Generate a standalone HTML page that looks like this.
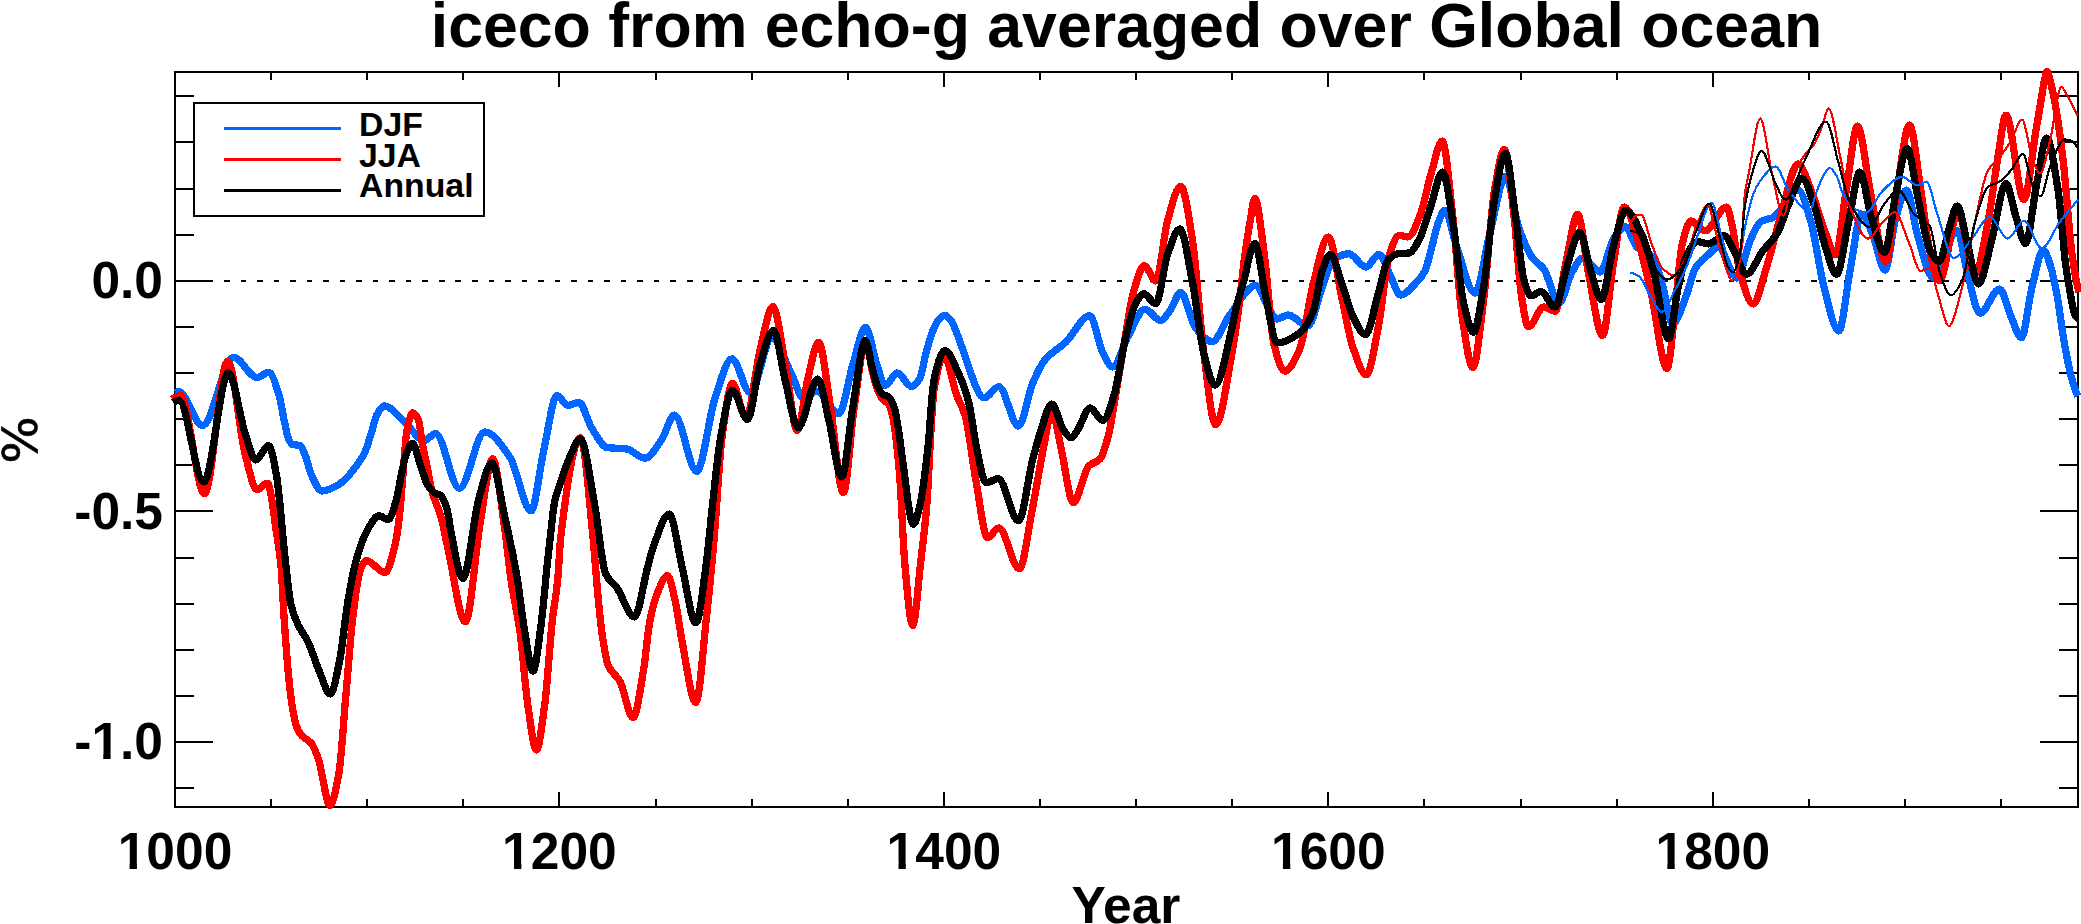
<!DOCTYPE html>
<html><head><meta charset="utf-8"><title>iceco from echo-g averaged over Global ocean</title>
<style>
html,body{margin:0;padding:0;background:#fff;}
body{width:2081px;height:924px;overflow:hidden;}
svg{display:block;}
text{font-family:"Liberation Sans",sans-serif;font-weight:bold;fill:#000;}
</style></head><body>
<svg width="2081" height="924" viewBox="0 0 2081 924">
<rect x="0" y="0" width="2081" height="924" fill="#fff"/>
<text x="1126.5" y="47" font-size="62.6" text-anchor="middle">iceco from echo-g averaged over Global ocean</text>
<line x1="174.4" y1="281" x2="2078.0" y2="281" stroke="#000" stroke-width="2" stroke-dasharray="5.6 10.934" shape-rendering="crispEdges"/>
<rect x="175.0" y="72.0" width="1903.0" height="735.0" fill="none" stroke="#000" stroke-width="2" shape-rendering="crispEdges"/>
<path d="M271.0,72.0v8M271.0,807.0v-8M367.0,72.0v8M367.0,807.0v-8M463.0,72.0v8M463.0,807.0v-8M559.0,72.0v15M559.0,807.0v-15M656.0,72.0v8M656.0,807.0v-8M752.0,72.0v8M752.0,807.0v-8M848.0,72.0v8M848.0,807.0v-8M944.0,72.0v15M944.0,807.0v-15M1040.0,72.0v8M1040.0,807.0v-8M1136.0,72.0v8M1136.0,807.0v-8M1232.0,72.0v8M1232.0,807.0v-8M1328.0,72.0v15M1328.0,807.0v-15M1424.0,72.0v8M1424.0,807.0v-8M1521.0,72.0v8M1521.0,807.0v-8M1617.0,72.0v8M1617.0,807.0v-8M1713.0,72.0v15M1713.0,807.0v-15M1809.0,72.0v8M1809.0,807.0v-8M1905.0,72.0v8M1905.0,807.0v-8M2001.0,72.0v8M2001.0,807.0v-8M175.0,788.0h19M2078.0,788.0h-19M175.0,742.0h38M2078.0,742.0h-38M175.0,696.0h19M2078.0,696.0h-19M175.0,650.0h19M2078.0,650.0h-19M175.0,604.0h19M2078.0,604.0h-19M175.0,558.0h19M2078.0,558.0h-19M175.0,511.0h38M2078.0,511.0h-38M175.0,465.0h19M2078.0,465.0h-19M175.0,419.0h19M2078.0,419.0h-19M175.0,373.0h19M2078.0,373.0h-19M175.0,327.0h19M2078.0,327.0h-19M175.0,281.0h38M2078.0,281.0h-38M175.0,235.0h19M2078.0,235.0h-19M175.0,189.0h19M2078.0,189.0h-19M175.0,142.0h19M2078.0,142.0h-19M175.0,96.0h19M2078.0,96.0h-19" stroke="#000" stroke-width="2" fill="none" shape-rendering="crispEdges"/>
<g fill="none" shape-rendering="crispEdges" stroke-linejoin="round" stroke-linecap="butt">
<path d="M175.0,392.5C176.3,392.0 177.7,391.8 179.0,391.8C186.8,391.8 194.7,425.6 202.5,425.6C212.9,425.6 223.2,357.3 233.6,357.3C241.4,357.3 249.2,377.5 257.0,377.5C260.9,377.5 264.8,372.3 268.7,372.3C272.1,372.3 275.6,384.1 279.0,395.0C280.8,400.6 282.5,412.9 284.3,421.0C285.6,426.9 286.9,434.6 288.2,437.8C289.5,440.9 290.7,443.9 292.0,444.3C294.6,445.2 297.3,444.8 299.9,445.6C301.6,446.1 303.3,450.9 305.0,454.7C307.2,459.7 309.4,470.9 311.6,475.5C315.1,482.7 318.5,491.0 322.0,491.0C325.0,491.0 328.0,489.6 331.0,488.5C335.3,486.9 339.6,484.3 343.9,480.8C346.6,478.6 349.3,474.8 352.0,471.5C353.9,469.2 355.8,466.7 357.7,464.0C360.0,460.7 362.3,457.8 364.6,453.0C366.9,448.1 369.3,439.3 371.6,432.0C373.3,426.6 375.1,418.1 376.8,415.0C379.4,410.4 381.9,406.0 384.5,406.0C390.9,406.0 397.4,415.5 403.8,421.0C410.7,426.9 417.6,440.4 424.5,440.4C428.2,440.4 431.8,433.5 435.5,433.5C443.5,433.5 451.4,488.3 459.4,488.3C467.8,488.3 476.3,432.0 484.7,432.0C493.1,432.0 501.6,445.1 510.0,457.4C517.0,467.6 524.0,510.8 531.0,510.8C535.3,510.8 539.5,469.2 543.8,450.3C548.2,430.8 552.6,395.5 557.0,395.5C560.6,395.5 564.1,405.3 567.7,405.3C571.5,405.3 575.2,402.5 579.0,402.5C583.2,402.5 587.4,421.2 591.6,427.8C596.7,435.9 601.9,446.7 607.0,447.5C613.6,448.5 620.2,448.1 626.8,449.0C632.9,449.8 638.9,458.2 645.0,458.2C650.7,458.2 656.3,447.2 662.0,439.0C666.1,433.0 670.3,415.1 674.4,415.1C681.8,415.1 689.3,471.3 696.7,471.3C702.8,471.3 708.9,416.1 715.0,398.2C720.6,381.7 726.3,358.8 731.9,358.8C738.0,358.8 744.1,392.5 750.2,392.5C757.5,392.5 764.7,338.0 772.0,338.0C778.3,338.0 784.7,360.8 791.0,372.9C795.5,381.5 800.0,399.6 804.5,399.6C808.4,399.6 812.4,391.0 816.3,391.0C823.8,391.0 831.3,413.7 838.8,413.7C843.5,413.7 848.2,379.3 852.9,364.4C857.1,350.9 861.4,327.3 865.6,327.3C869.3,327.3 873.1,353.8 876.8,364.4C879.6,372.3 882.4,385.5 885.2,385.5C889.2,385.5 893.3,372.9 897.3,372.9C902.0,372.9 906.7,386.4 911.4,386.4C914.3,386.4 917.1,382.7 920.0,378.0C922.0,374.7 924.0,360.5 926.0,353.0C927.8,346.3 929.6,339.4 931.4,334.6C933.6,328.8 935.8,323.1 938.0,320.5C940.2,317.9 942.4,315.2 944.6,315.2C946.7,315.2 948.9,317.9 951.0,320.5C953.1,323.1 955.3,329.3 957.4,334.6C959.0,338.6 960.6,343.9 962.2,348.0C969.5,366.8 976.9,397.9 984.2,397.9C989.1,397.9 993.9,386.7 998.8,386.7C1005.4,386.7 1011.9,426.0 1018.5,426.0C1023.2,426.0 1027.8,394.9 1032.5,383.8C1036.3,374.8 1040.0,366.1 1043.8,361.3C1051.3,351.8 1058.8,348.9 1066.3,341.6C1074.1,334.0 1081.9,315.7 1089.7,315.7C1094.1,315.7 1098.5,344.6 1102.9,352.9C1106.2,359.0 1109.4,367.0 1112.7,367.0C1117.9,367.0 1123.0,345.2 1128.2,336.0C1133.8,326.1 1139.4,309.3 1145.0,309.3C1150.2,309.3 1155.4,320.5 1160.6,320.5C1163.7,320.5 1166.9,314.7 1170.0,310.7C1173.6,306.1 1177.1,292.4 1180.7,292.4C1185.6,292.4 1190.4,321.5 1195.3,327.6C1200.9,334.6 1206.6,341.6 1212.2,341.6C1217.8,341.6 1223.4,323.7 1229.0,316.3C1237.9,304.5 1246.9,285.4 1255.8,285.4C1260.0,285.4 1264.3,301.6 1268.5,307.9C1271.3,312.1 1274.2,319.0 1277.0,319.0C1280.7,319.0 1284.5,315.0 1288.2,315.0C1294.8,315.0 1301.3,326.0 1307.9,326.0C1312.6,326.0 1317.3,300.2 1322.0,288.0C1325.7,278.3 1329.5,262.7 1333.2,260.0C1338.4,256.3 1343.5,253.8 1348.7,253.8C1354.5,253.8 1360.2,267.0 1366.0,267.0C1370.3,267.0 1374.5,254.4 1378.8,254.4C1382.8,254.4 1386.9,269.4 1390.9,277.0C1394.1,283.0 1397.2,295.0 1400.4,295.0C1406.2,295.0 1411.9,287.1 1417.7,281.0C1420.0,278.5 1422.4,276.0 1424.7,271.5C1427.0,267.0 1429.3,256.2 1431.6,248.0C1433.9,239.8 1436.2,227.7 1438.5,222.0C1440.6,216.8 1442.6,210.3 1444.7,210.3C1448.7,210.3 1452.6,235.5 1456.6,246.6C1462.7,263.6 1468.8,293.0 1474.9,293.0C1479.9,293.0 1485.0,251.5 1490.0,232.5C1495.3,212.6 1500.5,176.3 1505.8,176.3C1510.0,176.3 1514.3,214.9 1518.5,227.0C1523.2,240.3 1527.8,251.6 1532.5,257.9C1536.3,263.0 1540.0,264.0 1543.8,269.0C1548.9,275.8 1553.9,303.0 1559.0,303.0C1563.3,303.0 1567.7,279.2 1572.0,272.0C1575.7,265.9 1579.3,257.9 1583.0,257.9C1588.7,257.9 1594.3,272.0 1600.0,272.0C1604.7,272.0 1609.3,244.6 1614.0,238.0C1617.7,232.8 1621.5,226.7 1625.2,226.7C1629.1,226.7 1632.9,243.2 1636.8,247.0C1642.4,252.4 1647.9,251.5 1653.5,257.9C1656.8,261.7 1660.1,277.4 1663.4,288.8C1666.4,299.3 1669.5,324.0 1672.5,324.0C1677.2,324.0 1681.9,306.6 1686.6,294.7C1689.4,287.6 1692.2,273.3 1695.0,268.7C1699.4,261.5 1703.8,258.6 1708.2,254.7C1711.5,251.8 1714.7,247.0 1718.0,247.0C1724.3,247.0 1730.7,278.0 1737.0,278.0C1741.3,278.0 1745.7,250.4 1750.0,241.0C1753.7,233.0 1757.3,223.6 1761.0,221.5C1765.0,219.2 1769.0,219.4 1773.0,217.5C1781.3,213.5 1789.7,190.0 1798.0,190.0C1802.3,190.0 1806.7,207.9 1811.0,222.3C1815.3,236.7 1819.7,271.1 1824.0,287.3C1828.9,305.7 1833.9,331.0 1838.8,331.0C1842.5,331.0 1846.3,290.2 1850.0,271.0C1853.8,251.3 1857.7,214.0 1861.5,214.0C1865.3,214.0 1869.1,226.7 1872.9,235.3C1876.9,244.4 1881.0,270.0 1885.0,270.0C1888.5,270.0 1892.1,231.1 1895.6,219.0C1899.3,206.5 1902.9,190.0 1906.6,190.0C1910.2,190.0 1913.9,222.9 1917.5,235.0C1922.7,252.2 1927.8,277.5 1933.0,277.5C1941.1,277.5 1949.2,230.5 1957.3,230.5C1960.5,230.5 1963.8,259.1 1967.0,271.0C1971.3,286.9 1975.7,313.2 1980.0,313.2C1986.5,313.2 1993.0,289.0 1999.5,289.0C2003.3,289.0 2007.2,308.1 2011.0,316.5C2014.4,324.1 2017.9,337.6 2021.3,337.6C2024.9,337.6 2028.4,301.2 2032.0,287.3C2035.8,272.7 2039.5,250.0 2043.3,250.0C2045.7,250.0 2048.1,258.8 2050.5,266.0C2052.9,273.1 2055.2,285.5 2057.6,298.5C2059.5,309.1 2061.5,326.4 2063.4,337.6C2066.0,352.6 2068.6,367.0 2071.2,376.6C2073.4,384.7 2075.6,391.6 2077.8,396.0" stroke="#0066ff" stroke-width="7.3"/>
<path d="M172.0,399.3C173.0,398.7 174.0,398.0 175.0,397.5C176.8,396.5 178.6,395.0 180.4,395.0C188.4,395.0 196.5,493.6 204.5,493.6C212.2,493.6 220.0,361.2 227.7,361.2C233.6,361.2 239.4,432.7 245.3,454.7C249.2,469.4 253.1,489.7 257.0,489.7C260.5,489.7 263.9,483.2 267.4,483.2C270.4,483.2 273.5,513.2 276.5,532.6C278.0,542.2 279.5,550.2 281.0,566.0C282.0,576.6 283.0,601.5 284.0,616.3C285.5,638.9 287.1,660.8 288.6,676.0C290.0,690.2 291.5,702.9 292.9,710.6C294.3,718.3 295.8,724.6 297.2,728.0C298.7,731.5 300.1,733.8 301.6,735.5C305.1,739.5 308.5,739.6 312.0,744.0C314.3,746.9 316.6,754.1 318.9,761.0C322.6,772.0 326.2,805.5 329.9,805.5C332.9,805.5 335.8,790.1 338.8,773.8C341.2,760.8 343.5,721.5 345.9,695.0C348.2,668.9 350.6,635.0 352.9,616.0C355.3,596.8 357.6,577.2 360.0,571.0C362.1,565.5 364.2,560.5 366.3,560.5C372.5,560.5 378.8,572.7 385.0,572.7C388.3,572.7 391.7,558.6 395.0,545.0C396.4,539.1 397.9,529.4 399.3,517.4C400.5,507.1 401.8,488.1 403.0,474.0C404.3,459.2 405.6,437.3 406.9,430.8C408.8,421.1 410.8,412.8 412.7,412.8C414.6,412.8 416.6,415.8 418.5,420.0C419.7,422.6 420.8,435.2 422.0,441.6C423.8,451.7 425.7,459.6 427.5,468.7C428.9,475.8 430.4,484.8 431.8,490.3C433.2,495.7 434.6,499.3 436.0,503.3C437.5,507.5 439.0,510.2 440.5,515.0C443.0,523.1 445.5,537.9 448.0,548.8C453.8,574.0 459.5,621.8 465.3,621.8C470.4,621.8 475.4,549.9 480.5,520.7C484.5,497.5 488.6,458.8 492.6,458.8C496.5,458.8 500.5,499.4 504.4,526.3C506.6,541.3 508.8,565.0 511.0,580.0C514.0,600.4 517.0,610.5 520.0,632.0C522.6,650.7 525.2,687.1 527.8,704.7C530.7,724.1 533.5,750.0 536.4,750.0C539.2,750.0 541.9,724.9 544.7,704.7C547.3,685.7 549.9,641.9 552.5,619.0C554.2,603.7 556.0,597.5 557.7,580.0C558.7,569.9 559.7,546.0 560.7,537.6C567.3,482.2 573.8,437.7 580.4,437.7C584.6,437.7 588.8,496.3 593.0,537.6C594.2,549.4 595.4,567.0 596.6,580.0C598.3,598.8 600.1,620.0 601.8,632.0C604.0,647.0 606.1,660.8 608.3,665.7C612.2,674.5 616.1,674.3 620.0,681.3C624.3,689.1 628.7,717.7 633.0,717.7C636.5,717.7 639.9,691.2 643.4,671.0C645.5,658.8 647.6,632.9 649.7,622.0C652.1,609.4 654.6,599.9 657.0,594.0C660.5,585.4 664.1,575.7 667.6,575.7C670.1,575.7 672.5,589.6 675.0,600.0C677.4,610.1 679.8,629.7 682.2,642.0C686.7,665.2 691.3,702.4 695.8,702.4C699.4,702.4 703.0,648.6 706.6,616.0C709.1,593.6 711.5,568.1 714.0,540.0C716.7,509.7 719.3,457.6 722.0,437.6C725.5,411.4 729.0,383.5 732.5,383.5C737.0,383.5 741.5,417.9 746.0,417.9C750.7,417.9 755.3,369.0 760.0,350.3C764.2,333.4 768.5,306.7 772.7,306.7C776.9,306.7 781.2,343.1 785.4,364.4C789.3,384.2 793.3,430.5 797.2,430.5C800.8,430.5 804.3,392.7 807.9,378.5C811.5,364.3 815.0,342.5 818.6,342.5C822.5,342.5 826.5,383.1 830.4,406.6C834.7,432.3 839.0,492.7 843.3,492.7C847.0,492.7 850.6,430.8 854.3,406.6C858.1,381.7 861.8,342.0 865.6,342.0C867.9,342.0 870.2,363.2 872.5,372.0C874.2,378.6 876.0,385.9 877.7,390.0C879.4,394.1 881.2,397.6 882.9,399.5C884.8,401.6 886.6,401.6 888.5,404.0C890.0,406.0 891.5,411.4 893.0,418.0C894.3,423.9 895.7,435.2 897.0,447.0C898.0,455.8 899.0,466.7 900.0,480.0C901.5,500.4 903.1,543.6 904.6,561.0C907.3,591.7 910.0,625.5 912.7,625.5C915.4,625.5 918.1,584.4 920.8,561.0C922.9,543.1 924.9,528.7 927.0,502.5C928.3,485.6 929.7,450.3 931.0,430.0C932.0,414.7 933.0,396.1 934.0,390.0C937.3,369.7 940.7,355.7 944.0,355.7C948.2,355.7 952.4,383.7 956.6,395.0C959.4,402.6 962.2,405.9 965.0,415.3C968.8,428.0 972.5,462.6 976.3,482.9C980.0,503.0 983.8,537.7 987.5,537.7C991.3,537.7 995.0,527.9 998.8,527.9C1005.6,527.9 1012.5,568.7 1019.3,568.7C1023.7,568.7 1028.1,530.2 1032.5,508.2C1036.3,489.4 1040.0,464.7 1043.8,446.3C1046.4,433.4 1049.1,411.0 1051.7,411.0C1054.7,411.0 1057.7,433.8 1060.7,446.3C1064.9,463.8 1069.1,502.5 1073.3,502.5C1078.5,502.5 1083.6,470.9 1088.8,466.0C1092.5,462.4 1096.3,462.9 1100.0,459.0C1102.8,456.0 1105.7,445.8 1108.5,435.0C1110.8,426.1 1113.2,409.2 1115.5,395.6C1117.9,381.8 1120.2,366.6 1122.6,352.9C1126.3,331.3 1130.1,303.5 1133.8,291.0C1137.3,279.3 1140.8,265.7 1144.3,265.7C1148.1,265.7 1152.0,281.0 1155.8,281.0C1159.7,281.0 1163.7,234.3 1167.6,220.6C1172.0,205.4 1176.3,186.3 1180.7,186.3C1184.6,186.3 1188.6,215.6 1192.5,240.3C1196.3,264.0 1200.0,324.5 1203.8,353.0C1207.7,382.7 1211.7,424.6 1215.6,424.6C1221.1,424.6 1226.5,382.7 1232.0,353.0C1234.2,340.9 1236.5,325.3 1238.7,308.5C1240.7,293.4 1242.7,271.4 1244.7,256.6C1246.5,243.5 1248.2,231.9 1250.0,222.0C1251.6,213.1 1253.2,198.5 1254.8,198.5C1258.0,198.5 1261.1,231.6 1264.3,254.4C1267.5,277.7 1270.8,331.7 1274.0,344.5C1277.6,358.7 1281.2,371.2 1284.8,371.2C1289.7,371.2 1294.5,360.9 1299.4,350.0C1304.1,339.5 1308.8,300.2 1313.5,282.6C1318.5,264.0 1323.4,237.0 1328.4,237.0C1332.8,237.0 1337.2,276.8 1341.6,296.6C1345.4,313.6 1349.1,336.6 1352.9,347.3C1357.4,360.1 1361.9,374.8 1366.4,374.8C1370.3,374.8 1374.3,347.1 1378.2,327.6C1382.0,308.9 1385.7,265.5 1389.5,254.4C1392.8,244.7 1396.0,235.3 1399.3,235.3C1402.1,235.3 1405.0,237.0 1407.8,237.0C1411.9,237.0 1416.1,225.1 1420.2,215.0C1423.8,206.2 1427.4,186.0 1431.0,174.0C1434.7,161.6 1438.5,141.0 1442.2,141.0C1445.6,141.0 1449.0,184.0 1452.4,212.8C1455.7,240.5 1458.9,295.5 1462.2,317.0C1465.8,340.5 1469.3,367.6 1472.9,367.6C1476.4,367.6 1479.8,329.4 1483.3,302.9C1487.1,274.1 1490.8,211.8 1494.6,190.0C1497.9,171.1 1501.1,149.5 1504.4,149.5C1507.7,149.5 1511.0,190.1 1514.3,218.5C1516.6,238.6 1519.0,279.4 1521.3,294.5C1523.6,309.6 1526.0,326.8 1528.3,326.8C1533.5,326.8 1538.6,307.0 1543.8,307.0C1547.5,307.0 1551.3,311.3 1555.0,311.3C1558.8,311.3 1562.5,276.8 1566.3,260.7C1570.1,244.6 1573.8,214.3 1577.6,214.3C1581.3,214.3 1585.1,256.6 1588.8,274.8C1593.4,297.1 1597.9,335.5 1602.5,335.5C1606.2,335.5 1609.8,284.3 1613.5,263.0C1617.1,242.1 1620.7,207.0 1624.3,207.0C1629.3,207.0 1634.2,229.3 1639.2,245.0C1643.3,257.9 1647.4,277.1 1651.5,295.0C1656.7,317.6 1661.8,368.6 1667.0,368.6C1669.9,368.6 1672.9,325.5 1675.8,301.0C1677.9,283.8 1679.9,253.8 1682.0,245.0C1685.0,232.2 1688.0,221.0 1691.0,221.0C1695.7,221.0 1700.3,230.9 1705.0,230.9C1712.2,230.9 1719.4,207.0 1726.6,207.0C1728.4,207.0 1730.2,217.4 1732.0,225.0C1734.6,235.8 1737.1,261.7 1739.7,271.0C1744.2,287.2 1748.7,304.0 1753.2,304.0C1757.5,304.0 1761.7,282.2 1766.0,269.0C1771.0,253.5 1776.0,231.4 1781.0,215.0C1786.7,196.4 1792.3,163.9 1798.0,163.9C1802.3,163.9 1806.7,179.6 1811.0,190.0C1815.3,200.4 1819.7,217.7 1824.0,228.8C1827.8,238.6 1831.7,254.8 1835.5,254.8C1839.1,254.8 1842.7,211.0 1846.3,190.0C1850.1,168.0 1853.8,126.0 1857.6,126.0C1861.7,126.0 1865.9,169.9 1870.0,190.0C1875.3,215.6 1880.5,262.0 1885.8,262.0C1889.5,262.0 1893.3,211.5 1897.0,190.0C1901.2,166.0 1905.3,125.0 1909.5,125.0C1913.3,125.0 1917.0,166.5 1920.8,190.0C1923.8,208.7 1926.8,238.2 1929.8,251.0C1933.0,264.7 1936.2,280.8 1939.4,280.8C1945.6,280.8 1951.8,212.6 1958.0,212.6C1963.7,212.6 1969.3,274.0 1975.0,274.0C1979.3,274.0 1983.7,243.7 1988.0,222.0C1991.3,205.5 1994.6,176.4 1997.9,157.4C2000.6,141.8 2003.3,115.2 2006.0,115.2C2012.0,115.2 2017.9,199.6 2023.9,199.6C2027.9,199.6 2032.0,153.4 2036.0,130.0C2037.6,120.7 2039.2,111.5 2040.8,102.0C2042.0,95.1 2043.1,86.1 2044.3,81.0C2045.2,76.9 2046.2,71.3 2047.1,71.3C2048.1,71.3 2049.2,77.2 2050.2,81.0C2051.7,86.6 2053.3,93.7 2054.8,102.0C2057.5,116.4 2060.1,135.4 2062.8,157.4C2066.0,183.8 2069.2,235.0 2072.4,257.0C2074.6,272.1 2076.8,284.9 2079.0,292.0" stroke="#ff0000" stroke-width="7.3"/>
<path d="M173.3,402.4C173.9,402.0 174.4,401.6 175.0,401.4C176.3,401.0 177.7,400.6 179.0,400.6C187.3,400.6 195.5,482.0 203.8,482.0C212.0,482.0 220.2,372.9 228.4,372.9C234.0,372.9 239.7,417.5 245.3,433.9C248.8,444.0 252.2,459.9 255.7,459.9C260.0,459.9 264.4,445.6 268.7,445.6C271.3,445.6 273.9,461.4 276.5,475.5C279.5,491.8 282.5,536.3 285.5,562.0C287.3,577.7 289.2,597.3 291.0,605.0C293.3,614.8 295.7,619.7 298.0,624.7C301.3,631.8 304.6,634.8 307.9,641.6C311.6,649.2 315.3,661.9 319.0,670.5C322.8,679.2 326.5,694.0 330.3,694.0C333.5,694.0 336.8,674.5 340.0,658.5C342.4,646.4 344.9,619.7 347.3,605.0C350.1,588.1 352.9,572.2 355.7,562.0C359.6,547.9 363.5,536.6 367.4,530.0C371.3,523.4 375.1,515.7 379.0,515.7C382.1,515.7 385.1,519.6 388.2,519.6C390.8,519.6 393.4,509.5 396.0,501.0C397.8,495.0 399.7,482.3 401.5,474.0C402.9,467.5 404.4,459.6 405.8,455.7C408.0,449.8 410.1,443.3 412.3,443.3C414.8,443.3 417.4,456.2 419.9,463.3C422.1,469.4 424.2,478.6 426.4,482.8C427.9,485.7 429.5,487.8 431.0,489.5C432.2,490.8 433.3,492.1 434.5,492.8C436.6,494.1 438.7,494.0 440.8,495.5C442.2,496.5 443.6,499.6 445.0,503.0C446.0,505.4 447.0,509.1 448.0,513.5C449.1,518.2 450.1,527.7 451.2,533.0C455.1,552.2 458.9,578.4 462.8,578.4C468.2,578.4 473.6,516.8 479.0,498.0C483.3,483.1 487.5,463.0 491.8,463.0C496.0,463.0 500.2,496.1 504.4,515.0C508.6,533.9 512.8,552.1 517.0,577.0C519.3,590.8 521.7,613.1 524.0,626.8C527.0,644.4 530.0,671.0 533.0,671.0C535.6,671.0 538.2,645.5 540.8,626.8C543.0,610.7 545.3,582.7 547.5,562.0C548.5,553.0 549.4,544.2 550.4,536.0C551.8,523.8 553.3,508.1 554.7,501.5C556.1,494.9 557.6,491.9 559.0,487.5C562.5,476.9 565.9,465.5 569.4,458.0C573.0,450.1 576.7,439.0 580.3,439.0C585.0,439.0 589.8,478.6 594.5,503.8C598.2,523.6 602.0,566.3 605.7,574.0C609.5,581.8 613.2,582.7 617.0,588.0C622.8,596.1 628.5,617.0 634.3,617.0C638.9,617.0 643.4,582.2 648.0,565.7C649.7,559.7 651.3,552.6 653.0,548.0C658.4,533.1 663.8,514.0 669.2,514.0C673.5,514.0 677.9,550.0 682.2,567.7C686.7,586.3 691.3,622.9 695.8,622.9C699.4,622.9 703.0,587.4 706.6,561.0C708.4,547.8 710.2,526.1 712.0,510.0C714.9,484.4 717.7,453.4 720.6,437.6C724.6,415.8 728.5,390.3 732.5,390.3C737.5,390.3 742.4,419.3 747.4,419.3C751.6,419.3 755.8,377.9 760.0,364.4C764.4,350.1 768.9,330.6 773.3,330.6C777.3,330.6 781.4,365.5 785.4,381.3C789.6,397.8 793.8,427.7 798.0,427.7C804.6,427.7 811.1,379.0 817.7,379.0C821.5,379.0 825.2,405.5 829.0,420.7C833.2,437.6 837.4,477.0 841.6,477.0C845.4,477.0 849.1,428.2 852.9,406.6C857.1,382.7 861.2,340.5 865.4,340.5C867.8,340.5 870.1,360.7 872.5,369.3C874.2,375.6 876.0,383.0 877.7,386.6C879.4,390.2 881.2,393.2 882.9,394.4C884.9,395.8 887.0,395.7 889.0,397.2C890.7,398.5 892.5,402.4 894.2,407.4C895.6,411.5 897.1,421.1 898.5,429.9C899.7,437.1 900.8,447.9 902.0,455.8C905.8,481.5 909.6,524.3 913.4,524.3C915.6,524.3 917.8,514.0 920.0,505.0C922.7,494.0 925.3,471.7 928.0,447.0C929.6,432.5 931.1,402.5 932.7,390.0C933.6,382.5 934.6,376.1 935.5,372.6C938.6,361.0 941.7,350.6 944.8,350.6C949.7,350.6 954.5,364.7 959.4,375.4C962.6,382.4 965.8,390.8 969.0,403.5C971.4,413.1 973.9,435.0 976.3,446.3C979.5,461.3 982.8,482.9 986.0,482.9C990.1,482.9 994.1,478.6 998.2,478.6C1005.0,478.6 1011.7,520.8 1018.5,520.8C1023.2,520.8 1027.8,478.4 1032.5,460.3C1035.3,449.3 1038.2,438.2 1041.0,430.0C1044.6,419.6 1048.1,404.0 1051.7,404.0C1055.6,404.0 1059.6,424.6 1063.5,430.0C1066.0,433.4 1068.5,437.8 1071.0,437.8C1073.2,437.8 1075.4,433.1 1077.6,430.0C1081.7,424.3 1085.9,408.0 1090.0,408.0C1094.3,408.0 1098.6,420.4 1102.9,420.4C1106.6,420.4 1110.3,406.8 1114.0,395.3C1117.8,383.5 1121.6,354.4 1125.4,338.8C1128.6,325.7 1131.8,311.0 1135.0,305.0C1137.9,299.6 1140.8,293.8 1143.7,293.8C1147.7,293.8 1151.8,303.6 1155.8,303.6C1159.7,303.6 1163.7,265.3 1167.6,254.4C1171.7,243.1 1175.7,229.0 1179.8,229.0C1184.0,229.0 1188.3,261.2 1192.5,282.6C1196.3,301.6 1200.0,338.2 1203.8,353.0C1207.5,367.7 1211.3,385.2 1215.0,385.2C1220.7,385.2 1226.3,350.9 1232.0,327.6C1233.3,322.1 1234.7,314.1 1236.0,308.5C1239.2,295.1 1242.4,286.8 1245.6,273.9C1247.2,267.3 1248.9,256.4 1250.5,252.0C1251.9,248.1 1253.4,243.5 1254.8,243.5C1258.4,243.5 1262.1,280.4 1265.7,296.6C1269.5,313.4 1273.2,343.0 1277.0,343.0C1284.5,343.0 1291.9,338.6 1299.4,333.2C1304.1,329.8 1308.8,322.3 1313.5,310.7C1316.3,303.7 1319.2,279.2 1322.0,271.3C1324.8,263.4 1327.6,254.4 1330.4,254.4C1334.1,254.4 1337.9,272.4 1341.6,282.6C1345.4,292.9 1349.1,308.9 1352.9,316.3C1357.1,324.6 1361.3,334.6 1365.5,334.6C1369.7,334.6 1374.0,307.9 1378.2,293.8C1381.5,282.9 1384.7,263.5 1388.0,260.0C1391.3,256.5 1394.6,254.2 1397.9,253.8C1401.6,253.3 1405.3,253.5 1409.0,253.0C1412.5,252.5 1416.0,245.4 1419.5,239.0C1423.3,232.0 1427.2,216.6 1431.0,205.5C1434.9,194.3 1438.7,172.0 1442.6,172.0C1446.3,172.0 1450.1,206.2 1453.8,229.0C1457.1,248.9 1460.3,288.9 1463.6,302.9C1466.9,317.0 1470.2,332.4 1473.5,332.4C1476.8,332.4 1480.0,307.3 1483.3,288.8C1487.1,267.4 1490.8,219.7 1494.6,198.8C1498.2,179.1 1501.7,153.2 1505.3,153.2C1508.8,153.2 1512.2,194.8 1515.7,218.5C1518.5,237.4 1521.2,271.1 1524.0,280.4C1526.3,288.2 1528.7,295.9 1531.0,295.9C1534.3,295.9 1537.7,291.6 1541.0,291.6C1545.7,291.6 1550.3,307.0 1555.0,307.0C1558.8,307.0 1562.5,280.3 1566.3,269.0C1570.8,255.5 1575.3,232.5 1579.8,232.5C1583.3,232.5 1586.7,258.3 1590.2,269.0C1593.9,280.4 1597.6,299.5 1601.3,299.5C1605.4,299.5 1609.4,260.2 1613.5,246.0C1617.6,231.8 1621.6,210.5 1625.7,210.5C1631.4,210.5 1637.1,224.8 1642.8,237.0C1646.5,245.0 1650.3,259.1 1654.0,273.0C1658.9,291.1 1663.7,338.7 1668.6,338.7C1671.7,338.7 1674.9,302.0 1678.0,288.2C1680.9,275.5 1683.7,261.5 1686.6,255.8C1690.2,248.7 1693.8,241.7 1697.4,241.7C1701.0,241.7 1704.6,243.9 1708.2,243.9C1713.6,243.9 1719.1,235.8 1724.5,235.8C1727.7,235.8 1731.0,245.8 1734.2,251.4C1738.3,258.4 1742.4,274.2 1746.5,274.2C1751.8,274.2 1757.1,258.6 1762.4,251.5C1767.6,244.6 1772.8,241.0 1778.0,232.0C1781.3,226.2 1784.7,213.5 1788.0,206.0C1792.7,195.5 1797.3,178.5 1802.0,178.5C1806.1,178.5 1810.3,194.5 1814.4,206.0C1818.2,216.6 1822.0,237.2 1825.8,248.3C1829.4,258.8 1832.9,274.3 1836.5,274.3C1840.5,274.3 1844.5,239.8 1848.5,222.3C1852.3,205.7 1856.1,172.0 1859.9,172.0C1863.6,172.0 1867.3,203.9 1871.0,215.8C1875.5,230.3 1880.0,252.3 1884.5,252.3C1888.3,252.3 1892.2,210.4 1896.0,193.0C1899.7,176.4 1903.3,148.5 1907.0,148.5C1910.8,148.5 1914.5,182.7 1918.3,199.5C1922.1,216.6 1926.0,243.0 1929.8,250.0C1933.0,255.8 1936.2,261.3 1939.4,261.3C1942.6,261.3 1945.8,238.5 1949.0,228.8C1951.8,220.4 1954.5,206.0 1957.3,206.0C1960.5,206.0 1963.8,229.8 1967.0,241.8C1970.8,255.8 1974.6,284.0 1978.4,284.0C1982.7,284.0 1987.1,257.3 1991.4,241.8C1996.3,224.4 2001.1,183.4 2006.0,183.4C2009.2,183.4 2012.5,205.9 2015.7,215.8C2019.0,225.8 2022.2,243.4 2025.5,243.4C2029.3,243.4 2033.0,202.0 2036.8,183.4C2040.1,167.3 2043.3,138.0 2046.6,138.0C2050.4,138.0 2054.2,165.4 2058.0,190.0C2059.7,201.2 2061.5,222.2 2063.2,240.0C2063.8,246.2 2064.4,254.5 2065.0,259.5C2067.1,276.8 2069.1,288.0 2071.2,298.5C2072.5,305.1 2073.8,313.6 2075.1,315.5C2076.4,317.4 2077.7,319.0 2079.0,319.0" stroke="#000000" stroke-width="7.3"/>
<path d="M1630.3,273.0C1633.2,273.0 1636.1,274.5 1639.0,276.3C1642.6,278.5 1646.2,289.0 1649.8,294.7C1653.8,300.9 1657.7,312.0 1661.7,312.0C1666.1,312.0 1670.6,298.1 1675.0,290.0C1678.9,283.0 1682.7,275.7 1686.6,266.6C1690.2,258.1 1693.8,245.6 1697.4,236.3C1702.1,224.1 1706.8,202.7 1711.5,202.7C1714.7,202.7 1717.8,223.1 1721.0,234.0C1724.0,244.4 1727.0,260.4 1730.0,266.6C1731.7,270.2 1733.5,274.5 1735.2,274.5C1739.0,274.5 1742.7,235.1 1746.5,219.5C1748.9,209.5 1751.3,198.9 1753.7,193.0C1755.6,188.2 1757.6,184.6 1759.5,182.0C1764.8,174.8 1770.2,166.5 1775.5,166.5C1779.8,166.5 1784.1,184.3 1788.4,190.0C1795.4,199.3 1802.5,211.0 1809.5,211.0C1812.0,211.0 1814.4,197.2 1816.9,191.0C1819.1,185.5 1821.2,178.9 1823.4,175.5C1825.6,172.1 1827.7,168.0 1829.9,168.0C1832.1,168.0 1834.2,172.0 1836.4,175.5C1838.6,179.0 1840.7,189.6 1842.9,193.5C1847.2,201.2 1851.5,207.5 1855.8,209.5C1859.3,211.1 1862.9,212.6 1866.4,212.6C1871.6,212.6 1876.8,196.5 1882.0,191.5C1888.7,185.1 1895.3,176.9 1902.0,176.9C1907.2,176.9 1912.3,185.3 1917.5,185.3C1920.5,185.3 1923.5,181.8 1926.5,181.8C1930.3,181.8 1934.0,205.2 1937.8,215.8C1943.2,230.9 1948.6,258.0 1954.0,258.0C1960.0,258.0 1966.0,245.5 1972.0,238.6C1977.9,231.8 1983.9,216.8 1989.8,216.8C1995.7,216.8 2001.7,238.6 2007.6,238.6C2013.0,238.6 2018.5,220.7 2023.9,220.7C2029.8,220.7 2035.8,248.3 2041.7,248.3C2047.7,248.3 2053.6,230.2 2059.6,222.3C2065.9,214.0 2072.1,206.4 2078.4,199.6" stroke="#0066ff" stroke-width="2.2"/>
<path d="M1630.3,224.4C1633.9,214.7 1637.4,214.6 1641.0,214.6C1644.7,214.6 1648.3,236.0 1652.0,245.0C1655.6,253.8 1659.2,265.3 1662.8,268.7C1666.4,272.1 1670.0,275.2 1673.6,275.2C1677.9,275.2 1682.3,264.5 1686.6,255.8C1690.2,248.5 1693.8,231.4 1697.4,223.3C1700.8,215.7 1704.2,205.0 1707.6,205.0C1710.0,205.0 1712.3,219.5 1714.7,227.6C1717.6,237.5 1720.5,251.8 1723.4,260.0C1726.4,268.6 1729.5,280.7 1732.5,280.7C1735.2,280.7 1738.0,270.7 1740.7,255.8C1742.1,248.4 1743.4,206.0 1744.8,195.0C1746.3,182.7 1747.9,177.9 1749.4,170.0C1753.0,151.5 1756.6,118.4 1760.2,118.4C1764.1,118.4 1768.1,157.5 1772.0,173.6C1775.9,189.4 1779.7,215.8 1783.6,215.8C1786.0,215.8 1788.5,193.1 1790.9,185.7C1795.2,172.6 1799.6,162.2 1803.9,155.8C1807.4,150.7 1810.8,149.5 1814.3,144.2C1816.9,140.2 1819.5,132.6 1822.1,126.0C1824.2,120.6 1826.4,108.5 1828.5,108.5C1832.5,108.5 1836.4,139.3 1840.4,157.4C1843.6,172.0 1846.8,197.0 1850.0,206.0C1856.0,222.8 1862.0,238.6 1868.0,238.6C1872.9,238.6 1877.7,226.9 1882.6,222.3C1886.7,218.5 1890.7,212.3 1894.8,212.3C1899.4,212.3 1904.0,231.4 1908.6,241.8C1912.7,251.0 1916.7,271.0 1920.8,271.0C1923.8,271.0 1926.7,268.0 1929.7,268.0C1932.4,268.0 1935.1,285.6 1937.8,293.8C1941.5,305.1 1945.3,326.0 1949.0,326.0C1953.3,326.0 1957.7,303.5 1962.0,287.3C1966.3,271.1 1970.7,241.2 1975.0,222.0C1979.3,202.8 1983.7,177.9 1988.0,170.4C1991.8,163.7 1995.7,162.3 1999.5,157.4C2003.3,152.6 2007.1,147.3 2010.9,141.0C2014.6,134.9 2018.3,119.4 2022.0,119.4C2025.3,119.4 2028.7,148.7 2032.0,157.4C2034.7,164.4 2037.3,173.6 2040.0,173.6C2043.3,173.6 2046.7,153.9 2050.0,141.0C2053.8,126.5 2057.5,87.0 2061.3,87.0C2063.0,87.0 2064.8,91.5 2066.5,94.2C2067.8,96.3 2069.1,98.8 2070.4,101.3C2071.7,103.7 2072.9,106.5 2074.2,109.1C2075.3,111.4 2076.4,113.7 2077.5,116.0" stroke="#ff0000" stroke-width="2.2"/>
<path d="M1630.3,230.9C1634.6,230.9 1639.0,233.4 1643.3,237.0C1646.9,239.9 1650.4,261.3 1654.0,266.6C1658.3,273.1 1662.7,279.6 1667.0,279.6C1672.0,279.6 1677.0,273.1 1682.0,266.6C1686.3,261.0 1690.7,243.9 1695.0,234.0C1699.8,223.1 1704.5,203.8 1709.3,203.8C1712.5,203.8 1715.8,223.0 1719.0,234.0C1721.9,243.9 1724.8,261.8 1727.7,266.6C1729.5,269.5 1731.2,272.5 1733.0,272.5C1735.2,272.5 1737.4,264.8 1739.6,255.8C1741.3,248.7 1743.1,218.1 1744.8,207.0C1746.7,195.1 1748.5,186.5 1750.4,180.0C1754.1,167.0 1757.8,151.0 1761.5,151.0C1766.2,151.0 1770.8,174.3 1775.5,183.4C1778.7,189.6 1781.8,199.6 1785.0,199.6C1791.6,199.6 1798.1,173.1 1804.7,160.6C1811.8,147.1 1818.9,121.7 1826.0,121.7C1830.3,121.7 1834.5,149.5 1838.8,164.0C1842.5,176.7 1846.3,195.8 1850.0,202.9C1856.5,215.3 1863.1,227.0 1869.6,227.0C1874.4,227.0 1879.2,210.4 1884.0,204.5C1888.8,198.6 1893.7,190.0 1898.5,190.0C1903.7,190.0 1908.8,208.7 1914.0,214.0C1919.3,219.4 1924.5,218.7 1929.8,226.0C1933.0,230.4 1936.2,261.5 1939.4,271.0C1943.2,282.3 1947.0,295.4 1950.8,295.4C1954.5,295.4 1958.3,288.3 1962.0,280.8C1966.3,272.1 1970.7,236.7 1975.0,222.0C1979.3,207.3 1983.7,189.7 1988.0,186.6C1991.8,183.9 1995.7,184.1 1999.5,181.8C2003.3,179.6 2007.1,174.8 2010.9,170.4C2014.9,165.8 2019.0,154.0 2023.0,154.0C2026.0,154.0 2029.0,177.3 2032.0,183.4C2034.9,189.3 2037.8,196.4 2040.7,196.4C2043.8,196.4 2046.9,174.5 2050.0,167.0C2054.8,155.4 2059.6,139.5 2064.4,139.5C2069.1,139.5 2073.7,140.0 2078.4,149.3" stroke="#000000" stroke-width="2.2"/>
</g>
<text x="175.0" y="869" font-size="51.5" text-anchor="middle">1000</text>
<text x="559.4" y="869" font-size="51.5" text-anchor="middle">1200</text>
<text x="943.9" y="869" font-size="51.5" text-anchor="middle">1400</text>
<text x="1328.3" y="869" font-size="51.5" text-anchor="middle">1600</text>
<text x="1712.8" y="869" font-size="51.5" text-anchor="middle">1800</text>
<text x="163" y="298.0" font-size="51.5" text-anchor="end">0.0</text>
<text x="163" y="528.6" font-size="51.5" text-anchor="end">-0.5</text>
<text x="163" y="759.3" font-size="51.5" text-anchor="end">-1.0</text>
<rect x="119.96" y="862.64" width="9.63" height="7.26" fill="#fff"/><rect x="136.95" y="862.64" width="9.02" height="7.26" fill="#fff"/>
<rect x="504.40" y="862.64" width="9.63" height="7.26" fill="#fff"/><rect x="521.39" y="862.64" width="9.02" height="7.26" fill="#fff"/>
<rect x="888.84" y="862.64" width="9.63" height="7.26" fill="#fff"/><rect x="905.83" y="862.64" width="9.02" height="7.26" fill="#fff"/>
<rect x="1273.28" y="862.64" width="9.63" height="7.26" fill="#fff"/><rect x="1290.27" y="862.64" width="9.02" height="7.26" fill="#fff"/>
<rect x="1657.72" y="862.64" width="9.63" height="7.26" fill="#fff"/><rect x="1674.71" y="862.64" width="9.02" height="7.26" fill="#fff"/>
<rect x="93.65" y="752.94" width="9.63" height="7.26" fill="#fff"/><rect x="110.64" y="752.94" width="9.02" height="7.26" fill="#fff"/>
<text x="1126" y="923" font-size="51.5" text-anchor="middle">Year</text>
<text transform="translate(37,440) rotate(-90) scale(1.0,0.95)" font-size="50" text-anchor="middle" style="font-family:'DejaVu Sans','Liberation Sans',sans-serif;font-weight:normal" stroke="#000" stroke-width="0.7">%</text>
<rect x="194" y="103" width="290" height="113" fill="#fff" stroke="#000" stroke-width="2" shape-rendering="crispEdges"/>
<line x1="224" y1="128.5" x2="341" y2="128.5" stroke="#0066ff" stroke-width="3" shape-rendering="crispEdges"/>
<text x="359" y="135.5" font-size="33.8">DJF</text>
<line x1="224" y1="159.5" x2="341" y2="159.5" stroke="#ff0000" stroke-width="3" shape-rendering="crispEdges"/>
<text x="359" y="166.5" font-size="33.8">JJA</text>
<line x1="224" y1="190" x2="341" y2="190" stroke="#000000" stroke-width="3" shape-rendering="crispEdges"/>
<text x="359" y="197.0" font-size="33.8">Annual</text>
</svg></body></html>
